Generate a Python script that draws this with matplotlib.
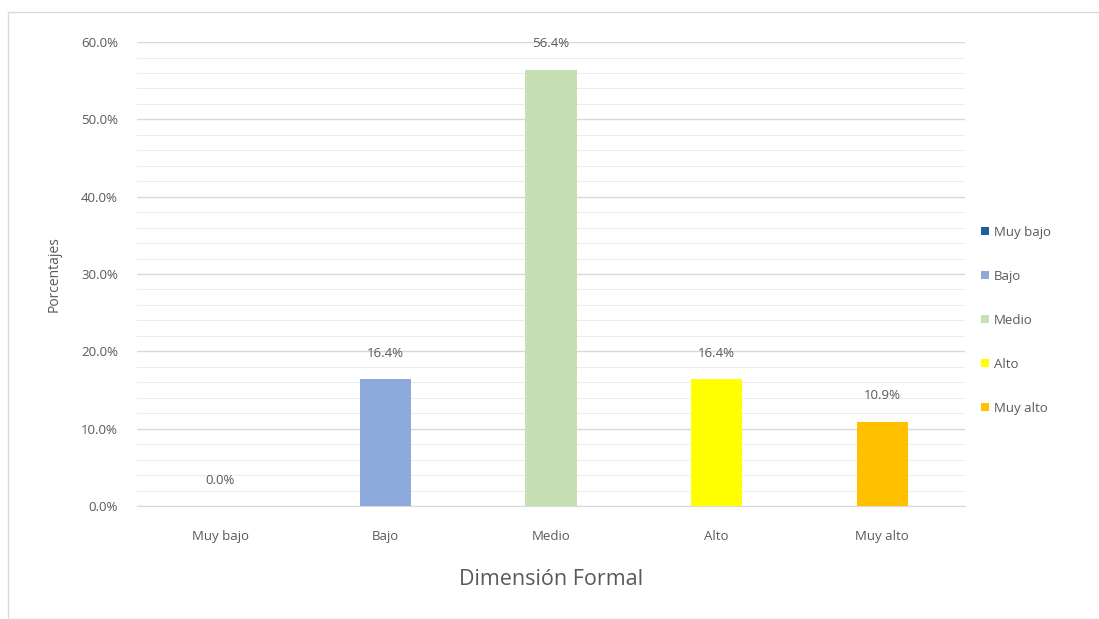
import numpy as np
import matplotlib.pyplot as plt
from matplotlib.patches import Rectangle

categorias = ['Muy bajo', 'Bajo', 'Medio', 'Alto', 'Muy alto']
porcentajes = [0.0, 16.4, 56.4, 16.4, 10.9]
colores = ['#1F5FA0', '#8EA9DB', '#C5E0B4', '#FFFF00', '#FFC000']
yticks = [0, 10, 20, 30, 40, 50, 60]

plt.rcParams['font.family'] = ['Open Sans', 'DejaVu Sans']
gris = '#595959'

fig = plt.figure(figsize=(10.99, 6.19), dpi=100)
ax = fig.add_axes([0.125, 0.1826, 0.753, 0.7494])

# borde exterior del grafico
fig.patches.append(Rectangle((8 / 1099, 0.0), 1.2, 1 - 12 / 619, transform=fig.transFigure,
                             fill=False, edgecolor='#D9D9D9', linewidth=1.0))

x = np.arange(len(categorias))
bars = ax.bar(x, porcentajes, width=0.31, color=colores, label=categorias, zorder=3)

for xi, v in zip(x, porcentajes):
    ax.annotate('{:.1f}%'.format(v), (xi, v), xytext=(0, 14), textcoords='offset points',
                ha='center', va='bottom', fontsize=9.5, color=gris)

ax.set_xlim(-0.5, len(categorias) - 0.5)
ax.set_ylim(0, 60)
ax.set_yticks(yticks)
ax.set_yticklabels(['{:.1f}%'.format(t) for t in yticks], fontsize=9.5, color=gris)
ax.set_yticks(np.arange(0, 60, 2), minor=True)
ax.set_xticks(x)
ax.set_xticklabels(categorias, fontsize=9.5, color=gris)
ax.tick_params(axis='both', which='both', length=0)
ax.tick_params(axis='x', pad=17)
ax.tick_params(axis='y', pad=14)

ax.grid(axis='y', which='major', color='#D9D9D9', linewidth=1.0, zorder=0)
ax.grid(axis='y', which='minor', color='#EDEDED', linewidth=0.8, zorder=0)
for s in ['top', 'right', 'left']:
    ax.spines[s].set_visible(False)
ax.spines['bottom'].set_color('#D9D9D9')

ax.set_xlabel('Dimensión Formal', fontsize=15.5, color=gris, labelpad=19)
ax.set_ylabel('Porcentajes', fontsize=10, color=gris, labelpad=14)

leg = ax.legend(loc='center left', bbox_to_anchor=(1.005, 0.40), frameon=False,
                fontsize=9.5, labelspacing=2.35, handlelength=0.6, handleheight=0.6,
                handletextpad=0.4)
for t in leg.get_texts():
    t.set_color(gris)

fig.savefig('out.png', dpi=100)
